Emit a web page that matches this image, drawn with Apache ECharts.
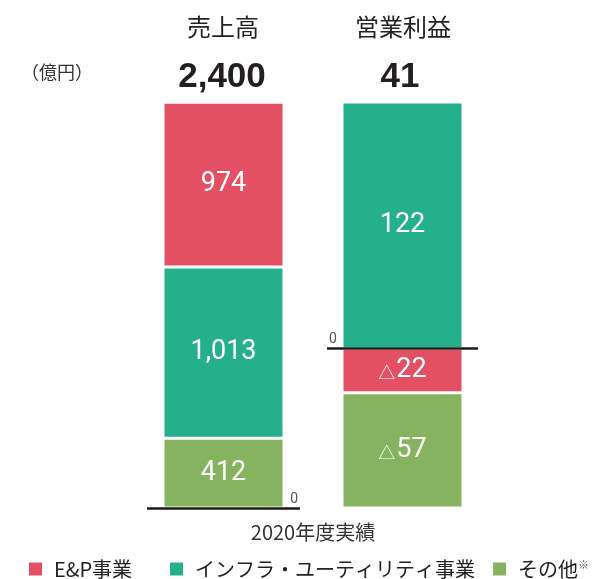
<!DOCTYPE html>
<html>
<head>
<meta charset="utf-8">
<script src="https://cdn.jsdelivr.net/npm/echarts@6/dist/echarts.min.js"></script>
<style>
  html, body { margin: 0; padding: 0; background: #fff; }
  #chart { width: 601px; height: 579px; }
</style>
</head>
<body>
<div id="chart"></div>
<script>
// データ
const categories = ['2020年度実績'];
const segmentNames = ['E&P事業', 'インフラ・ユーティリティ事業', 'その他'];
const segmentColors = ['#E35064', '#25B08C', '#86B35F'];
// 売上高 (E&P, インフラ, その他)
const salesValues = [974, 1013, 412];
// 営業利益 (E&P, インフラ, その他)
const profitValues = [-22, 122, -57];
const panelTitles = ['売上高', '営業利益'];
const panelTotals = ['2,400', '41'];
const salesRange = [0, 2400];
const profitRange = [-79, 122];

const font = '"Noto Sans CJK JP", "Noto Sans", sans-serif';
const numFont = 'Roboto, sans-serif';

function fmt(v) {
    if (v < 0) return '{t|△}{v|' + Math.abs(v).toLocaleString('en-US') + '}';
    return '{v|' + v.toLocaleString('en-US') + '}';
}

const barLabel = {
    show: true,
    position: 'inside',
    formatter: function (p) { return fmt(p.value); },
    rich: {
        v: { color: '#fff', fontSize: 27, fontFamily: numFont },
        t: { color: '#fff', fontSize: 17, fontFamily: font, padding: [4, 1, 0, 0] }
    }
};

function zeroLine(pos) {
    return {
        silent: true,
        symbol: 'none',
        lineStyle: { color: '#1a1a1a', width: 2.5, type: 'solid' },
        label: { position: pos, formatter: '0', color: '#555', fontSize: 14, fontFamily: 'Roboto, sans-serif', distance: 2 },
        data: [{ yAxis: 0 }]
    };
}

function makeSeries(idx, grid, stack, value, markLine) {
    const s = {
        name: segmentNames[idx],
        type: 'bar',
        stack: stack,
        xAxisIndex: grid,
        yAxisIndex: grid,
        barWidth: 121,
        data: [value],
        itemStyle: { color: segmentColors[idx], borderColor: '#fff', borderWidth: 1.5 },
        label: barLabel
    };
    if (markLine) s.markLine = markLine;
    return s;
}

const series = [
    // 売上高: 下からその他, インフラ, E&P
    makeSeries(2, 0, 'sales', salesValues[2], zeroLine('insideEndTop')),
    makeSeries(1, 0, 'sales', salesValues[1]),
    makeSeries(0, 0, 'sales', salesValues[0]),
    // 営業利益: 上にインフラ, 0の下にE&P, その下にその他
    makeSeries(1, 1, 'profit', profitValues[1], zeroLine('insideStartTop')),
    makeSeries(0, 1, 'profit', profitValues[0]),
    makeSeries(2, 1, 'profit', profitValues[2])
];

const legendText = {
    fontSize: 20, color: '#222', fontFamily: font, padding: [0, 0, 0, 6],
    rich: {
        s: { fontSize: 11, color: '#555', fontFamily: font, verticalAlign: 'top', padding: [0, 0, 9, 0] }
    }
};

const chart = echarts.init(document.getElementById('chart'));
chart.setOption({
    animation: false,
    grid: [
        { left: 147, top: 102, width: 153, height: 406 },
        { left: 327, top: 102, width: 151, height: 406 }
    ],
    xAxis: [
        { gridIndex: 0, type: 'category', data: categories, show: false },
        { gridIndex: 1, type: 'category', data: categories, show: false }
    ],
    yAxis: [
        { gridIndex: 0, type: 'value', min: salesRange[0], max: salesRange[1], show: false },
        { gridIndex: 1, type: 'value', min: profitRange[0], max: profitRange[1], show: false }
    ],
    legend: {
        data: segmentNames,
        left: 22,
        top: 554,
        icon: 'rect',
        itemWidth: 15,
        itemHeight: 15,
        itemGap: 16,
        selectedMode: false,
        formatter: function (name) {
            if (name === 'その他') return name + '{s|※}';
            if (name === 'E&P事業') return name + '\u3000';
            return name;
        },
        textStyle: legendText
    },
    graphic: [
        { type: 'text', x: 21, y: 72, style: { text: '（億円）', font: '18px ' + font, fill: '#333', textAlign: 'left', textVerticalAlign: 'middle' } },
        { type: 'text', x: 223, y: 27, style: { text: panelTitles[0], font: '24px ' + font, fill: '#222', textAlign: 'center', textVerticalAlign: 'middle' } },
        { type: 'text', x: 403, y: 27, style: { text: panelTitles[1], font: '24px ' + font, fill: '#222', textAlign: 'center', textVerticalAlign: 'middle' } },
        { type: 'text', x: 222, y: 77, style: { text: panelTotals[0], font: 'bold 35px "Liberation Sans", Arial, sans-serif', fill: '#231F20', textAlign: 'center', textVerticalAlign: 'middle' } },
        { type: 'text', x: 400, y: 77, style: { text: panelTotals[1], font: 'bold 35px "Liberation Sans", Arial, sans-serif', fill: '#231F20', textAlign: 'center', textVerticalAlign: 'middle' } },
        { type: 'text', x: 313, y: 532, style: { text: categories[0], font: '20px ' + font, fill: '#333', textAlign: 'center', textVerticalAlign: 'middle' } }
    ],
    series: series
});
</script>
</body>
</html>
